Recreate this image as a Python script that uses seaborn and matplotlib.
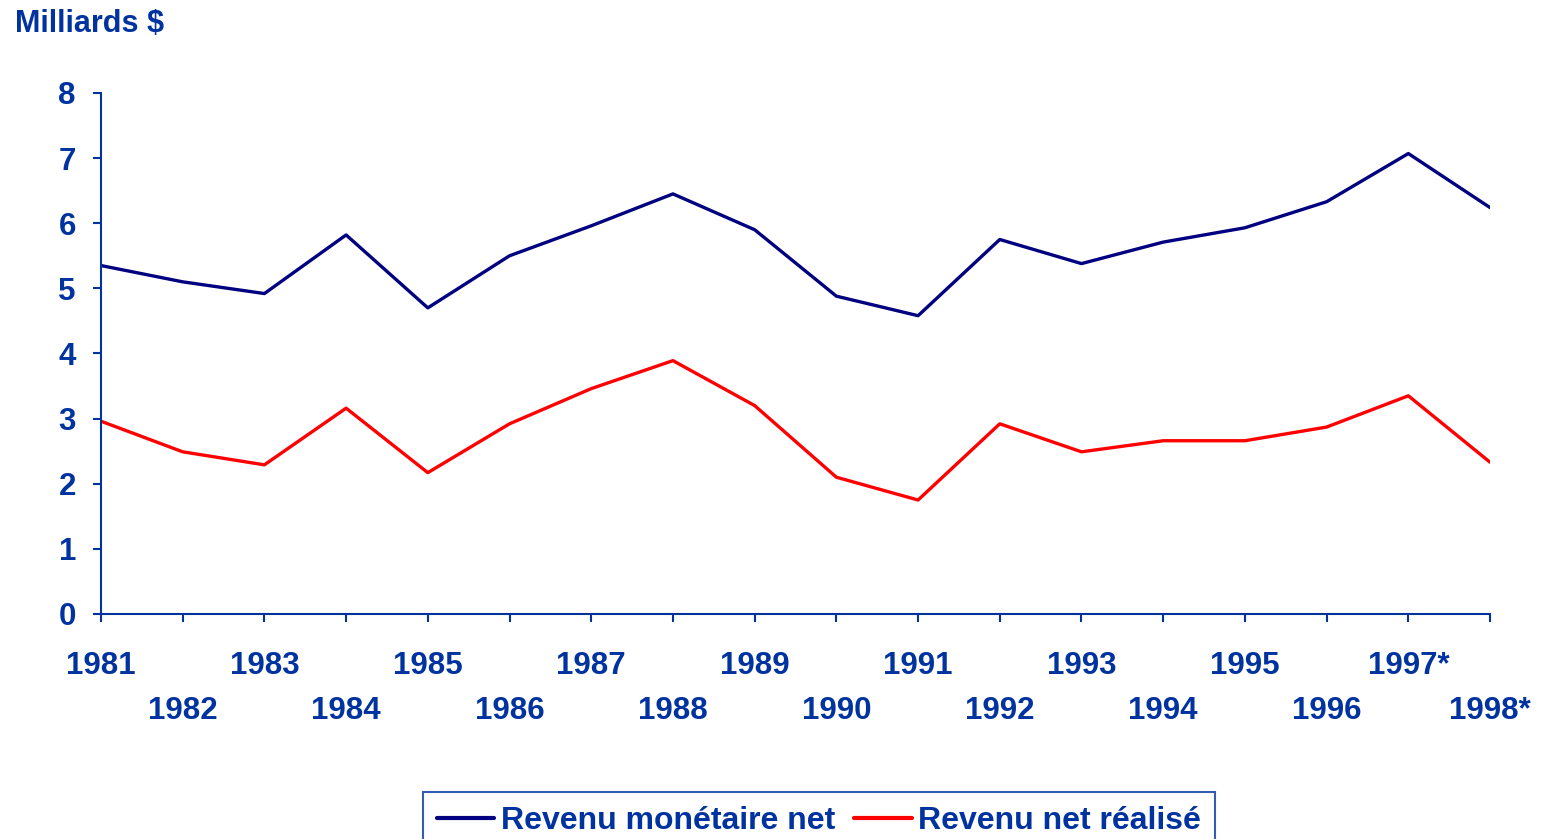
import pandas as pd
import numpy as np
import matplotlib.pyplot as plt
import seaborn as sns

years = ['1981', '1982', '1983', '1984', '1985', '1986', '1987', '1988', '1989',
         '1990', '1991', '1992', '1993', '1994', '1995', '1996', '1997*', '1998*']
revenu_monetaire = [5.35, 5.10, 4.92, 5.82, 4.70, 5.50, 5.96, 6.45, 5.90,
                    4.88, 4.58, 5.75, 5.38, 5.71, 5.93, 6.33, 7.07, 6.24]
revenu_realise = [2.96, 2.49, 2.29, 3.16, 2.17, 2.92, 3.46, 3.89, 3.20,
                  2.10, 1.75, 2.92, 2.49, 2.66, 2.66, 2.87, 3.35, 2.33]
series = ['Revenu monétaire net', 'Revenu net réalisé']

text_blue = '#0033a0'
colors = {'Revenu monétaire net': '#000080', 'Revenu net réalisé': '#ff0000'}

df = pd.DataFrame({
    'idx': list(range(len(years))) * 2,
    'value': revenu_monetaire + revenu_realise,
    'serie': [series[0]] * len(years) + [series[1]] * len(years),
})

sns.set_style('white')
plt.rcParams['font.family'] = ['Liberation Sans', 'DejaVu Sans']
plt.rcParams['font.weight'] = 'bold'

fig = plt.figure(figsize=(15.51, 8.39), dpi=100)
ax = fig.add_axes([0.0651, 0.2682, 0.8956, 0.621])

sns.lineplot(data=df, x='idx', y='value', hue='serie', palette=colors,
             linewidth=2.4, ax=ax)

ax.set_xlim(0, len(years) - 1)
ax.set_ylim(0, 8)
ax.set_yticks(range(0, 9))
ax.set_xticks(range(len(years)))
ax.set_xticklabels(years)
ax.set_xlabel('')
ax.set_ylabel('')

for s in ['top', 'right']:
    ax.spines[s].set_visible(False)
for s in ['left', 'bottom']:
    ax.spines[s].set_color(text_blue)
    ax.spines[s].set_linewidth(1.5)

ax.tick_params(axis='both', direction='out', length=6, width=1.5,
               color=text_blue, labelcolor=text_blue, labelsize=22.5)
ax.tick_params(axis='y', pad=12, left=True)
ax.tick_params(axis='x', bottom=True)
for lab in ax.get_xticklabels() + ax.get_yticklabels():
    lab.set_fontweight('bold')

# alternate the year labels on two rows
for i, tick in enumerate(ax.xaxis.get_major_ticks()):
    tick.set_pad(20.5 if i % 2 == 0 else 53)

fig.text(0.0097, 0.971, 'Milliards $', color=text_blue, fontsize=22,
         fontweight='bold', ha='left', va='center')

handles, labels = ax.get_legend_handles_labels()
leg = ax.legend(handles, labels, loc='upper center',
                bbox_to_anchor=(0.528, 0.056), bbox_transform=fig.transFigure,
                ncol=2, frameon=True, fancybox=False, fontsize=23,
                handlelength=1.8, handletextpad=0.2, columnspacing=0.6,
                borderpad=0.45, borderaxespad=0)
leg.get_frame().set_edgecolor(text_blue)
leg.get_frame().set_linewidth(1.5)
for t in leg.get_texts():
    t.set_color(text_blue)
    t.set_fontweight('bold')
for h in leg.get_lines():
    h.set_linewidth(3)

fig.savefig('out.png', dpi=100)
